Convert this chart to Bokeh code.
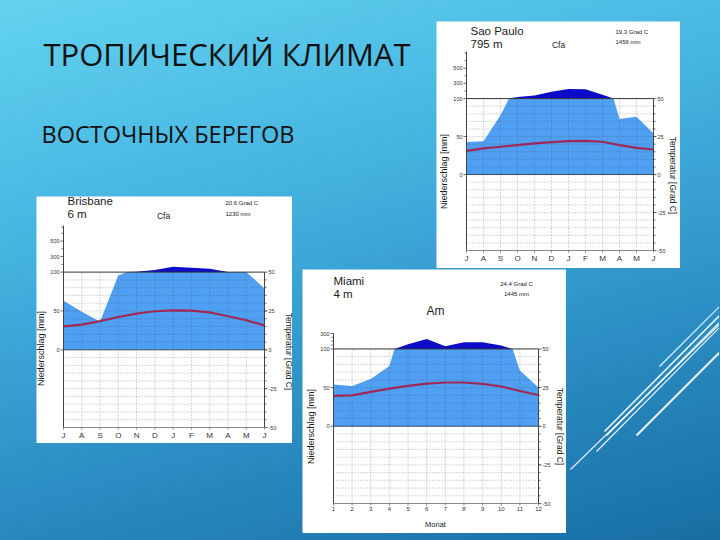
import math
import numpy as np
from bokeh.plotting import figure
from bokeh.models import Range1d, Label, Spacer, GridBox
from bokeh.layouts import column, row
from bokeh.core.properties import value
from bokeh.embed import file_html
from bokeh.resources import INLINE

# ---------------- data ----------------
title_line1 = "ТРОПИЧЕСКИЙ КЛИМАТ"
title_line2 = "ВОСТОЧНЫХ БЕРЕГОВ"

months_south = ["J", "A", "S", "O", "N", "D", "J", "F", "M", "A", "M", "J"]
months_num = ["1", "2", "3", "4", "5", "6", "7", "8", "9", "10", "11", "12"]

sp_precip = [43, 44, 78, 122, 142, 190, 225, 222, 150, 73, 76, 54]
sp_temp = [15.6, 17.2, 18.3, 19.4, 20.5, 21.4, 22.0, 22.2, 21.6, 19.4, 17.6, 16.5]

br_precip = [63, 49, 36, 96, 104, 126, 169, 156, 143, 100, 100, 79]
br_temp = [15.1, 16.2, 18.5, 21.1, 23.3, 24.8, 25.4, 25.2, 24.1, 21.6, 19.0, 15.7]

mi_precip = [54, 52, 61, 78, 160, 230, 135, 187, 187, 144, 72, 50]
mi_temp = [19.6, 20.0, 22.2, 24.3, 26.1, 27.6, 28.3, 28.3, 27.4, 25.7, 22.8, 20.2]

precip_ticks_big = [0, 50, 100, 300, 500]
precip_ticks_small = [0, 50, 100, 300]
temp_ticks = [-50, -25, 0, 25, 50]

# decorative slide lines (page pixels): x0, y0, x1, y1, width
deco_x0 = [660, 605, 607, 597, 571, 637]
deco_y0 = [367, 432, 436, 452, 470, 436]
deco_x1 = [720, 720, 720, 720, 720, 720]
deco_y1 = [307, 316, 323, 328, 325, 353]
deco_w = [1.2, 1.6, 1.4, 1.2, 1.1, 2.2]

FONT = "Liberation Sans"
LIGHT = "#4f9ff2"
DARK = "#0c0cc8"
TLINE = "#a02a55"
AXC = "#444444"


def p_scale(mm):
    return mm / 2.0 if mm <= 100 else 50.0 + (mm - 100) / 20.0


def area_points(xs, mm):
    px, pm = [xs[0]], [mm[0]]
    for i in range(1, len(xs)):
        a, b = mm[i - 1], mm[i]
        if (a - 100) * (b - 100) < 0:
            t = (100.0 - a) / (b - a)
            px.append(xs[i - 1] + t * (xs[i] - xs[i - 1]))
            pm.append(100.0)
        px.append(xs[i])
        pm.append(mm[i])
    return np.array(px, dtype=float), np.array([p_scale(v) for v in pm])


def chart(g, months, precip, temp, pticks, left_minor, texts, month_font):
    PL, PT, W, H, L, R, T, B, YT = g
    FL, FR, FT, FB = PL + L, PL + W - R, PT + T, PT + H - B
    n = len(months) - 1
    s = (FB - FT) / (YT + 50.0)
    kx = n / (FR - FL)      # data units per pixel (x)
    ky = 1.0 / s            # data units per pixel (y)

    def to_data(x, y):
        return (x - FL) * kx, (FB - y) * ky - 50.0

    xa, yb = to_data(PL, PT + H)
    xb, ya = to_data(PL + W, PT)
    p = figure(width=W, height=H, x_range=Range1d(xa, xb), y_range=Range1d(yb, ya),
               output_backend="svg", toolbar_location=None, min_border=0,
               x_axis_type=None, y_axis_type=None,
               background_fill_color="white", border_fill_color="white",
               outline_line_color=None)
    p.xgrid.visible = False
    p.ygrid.visible = False

    xs = list(range(len(months)))
    ax, ay = area_points(xs, precip)
    p.varea(x=ax, y1=np.zeros_like(ay), y2=np.minimum(ay, 50), fill_color=LIGHT)
    p.varea(x=ax, y1=np.full_like(ay, 50.0), y2=np.maximum(ay, 50), fill_color=DARK)

    # dotted grid from -50 to 50
    gx = xs[1:-1]
    p.segment(x0=gx, y0=[-50] * len(gx), x1=gx, y1=[50] * len(gx),
              line_color="#4a4a5a", line_alpha=0.55, line_width=0.8, line_dash="1 2")
    hy = [v for v in range(-45, 50, 5) if v != 0]
    p.segment(x0=[0] * len(hy), y0=hy, x1=[n] * len(hy), y1=hy,
              line_color="#4a4a5a", line_alpha=0.55, line_width=0.8, line_dash="1 2")
    p.segment(x0=[0], y0=[0], x1=[n], y1=[0], line_color="#3a4a66", line_width=1)
    p.segment(x0=[0], y0=[50], x1=[n], y1=[50], line_color="#333333", line_width=1)

    p.line(x=xs, y=temp, line_color=TLINE, line_width=2.2)

    # ---- left axis (precipitation) ----
    tv = [p_scale(v) for v in pticks]
    p.segment(x0=[0], y0=[-50], x1=[0], y1=[YT], line_color=AXC, line_width=1)
    p.segment(x0=[-3 * kx] * len(tv), y0=tv, x1=[0] * len(tv), y1=tv, line_color=AXC, line_width=0.8)
    p.segment(x0=[-2 * kx] * len(left_minor), y0=left_minor, x1=[0] * len(left_minor), y1=left_minor,
              line_color=AXC, line_width=0.8)
    p.text(x=[-4 * kx] * len(tv), y=tv, text=[str(v) for v in pticks], text_align="right",
           text_baseline="middle", text_font=value(FONT), text_font_size="5.5px", text_color="#333333")

    # ---- right axis (temperature) ----
    rmin = list(range(-45, 50, 5))
    p.segment(x0=[n], y0=[-50], x1=[n], y1=[50], line_color=AXC, line_width=1)
    p.segment(x0=[n] * len(temp_ticks), y0=temp_ticks, x1=[n + 3 * kx] * len(temp_ticks), y1=temp_ticks,
              line_color=AXC, line_width=0.8)
    p.segment(x0=[n] * len(rmin), y0=rmin, x1=[n + 2 * kx] * len(rmin), y1=rmin,
              line_color=AXC, line_width=0.8)
    p.text(x=[n + 4 * kx] * len(temp_ticks), y=temp_ticks, text=[str(v) for v in temp_ticks],
           text_align="left", text_baseline="middle", text_font=value(FONT), text_font_size="5.5px",
           text_color="#333333")

    # ---- bottom axis (months) ----
    p.segment(x0=[0], y0=[-50], x1=[n], y1=[-50], line_color="#888888", line_width=1)
    p.segment(x0=xs, y0=[-50] * len(xs), x1=xs, y1=[-50 - 2 * ky] * len(xs), line_color="#666666",
              line_width=0.8)
    p.text(x=xs, y=[-50 - 3.5 * ky] * len(xs), text=months, text_align="center", text_baseline="top",
           text_font=value(FONT), text_font_size=month_font, text_color="#333333")

    # ---- captions ----
    for (txt, x, y, size, align, ang) in texts:
        dx, dy = to_data(x, y)
        p.text(x=[dx], y=[dy], text=[txt], text_font=value(FONT), text_font_size=size,
               text_align=align, text_baseline="middle", angle=ang, text_color="#1a1a1a")
    return p


UP = math.pi / 2
DOWN = -math.pi / 2

sp_geom = (436, 21, 244, 247, 30, 27, 30, 18, 81)
sp_texts = [
    ("Sao Paulo", 470, 30, "11.5px", "left", 0),
    ("795 m", 470, 43.5, "11.5px", "left", 0),
    ("Cfa", 558, 44.5, "8.5px", "center", 0),
    ("19.3 Grad C", 615, 31.5, "6px", "left", 0),
    ("1456 mm", 615, 41.5, "6px", "left", 0),
    ("Niederschlag [mm]", 443.5, 171, "9px", "center", UP),
    ("Temperatur [Grad C]", 672, 175, "8.5px", "center", DOWN),
]
br_geom = (36, 196, 256, 247, 27, 28, 29, 16, 80)
br_texts = [
    ("Brisbane", 67, 200.5, "11.5px", "left", 0),
    ("6 m", 67, 213.5, "11.5px", "left", 0),
    ("Cfa", 163, 215.5, "8.5px", "center", 0),
    ("20.6 Grad C", 225, 202, "6px", "left", 0),
    ("1230 mm", 225, 213, "6px", "left", 0),
    ("Niederschlag [mm]", 40.5, 348, "9px", "center", UP),
    ("Temperatur [Grad C]", 288, 351, "8.5px", "center", DOWN),
]
mi_geom = (303, 270, 264, 264, 31, 28, 64, 30, 60)
mi_texts = [
    ("Miami", 334, 281, "11.5px", "left", 0),
    ("4  m", 334, 294.5, "11.5px", "left", 0),
    ("Am", 436, 311.5, "12px", "center", 0),
    ("24.4 Grad C", 517, 284.5, "6px", "center", 0),
    ("1445 mm", 517, 294.5, "6px", "center", 0),
    ("Niederschlag [mm]", 311.5, 427, "9px", "center", UP),
    ("Temperatur [Grad C]", 560, 427, "8.5px", "center", DOWN),
    ("Monat", 436, 525, "7.5px", "center", 0),
]

sp = chart(sp_geom, months_south, sp_precip, sp_temp, precip_ticks_big, [55, 65, 75, 80], sp_texts, "8px")
br = chart(br_geom, months_south, br_precip, br_temp, precip_ticks_big, [55, 65, 75, 79], br_texts, "8px")
mi = chart(mi_geom, months_num, mi_precip, mi_temp, precip_ticks_small, [52.5, 55, 57.5], mi_texts, "6px")


def blank(w, h, xr, yr):
    f = figure(width=w, height=h, x_range=xr, y_range=yr, output_backend="svg",
               toolbar_location=None, min_border=0, x_axis_type=None, y_axis_type=None,
               background_fill_alpha=0, border_fill_alpha=0, outline_line_color=None)
    f.xgrid.visible = False
    f.ygrid.visible = False
    return f


# title area (page coordinates)
tf = blank(435, 194, Range1d(0, 435), Range1d(194, 0))
tf.add_layout(Label(x=43, y=53, text=title_line1, text_font="Open Sans", text_font_size="31px",
                    text_baseline="middle", text_align="left", text_color="#111111"))
tf.add_layout(Label(x=41, y=133, text=title_line2, text_font="Open Sans", text_font_size="23.5px",
                    text_baseline="middle", text_align="left", text_color="#111111"))

# decorative lines (page coordinates)
df = blank(153, 270, Range1d(567, 720), Range1d(540, 270))
df.segment(x0=deco_x0, y0=deco_y0, x1=deco_x1, y1=deco_y1, line_width=deco_w,
           line_color="white", line_alpha=0.9)

sp_cell = column(Spacer(width=285, height=21), row(Spacer(width=1, height=247), sp))
br_cell = column(Spacer(width=302, height=2), row(Spacer(width=36, height=247), br))
mi_cell = column(Spacer(width=418, height=0), row(Spacer(width=0, height=264), mi, df))

grid = GridBox(children=[(tf, 0, 0, 1, 2), (sp_cell, 0, 2, 2, 1), (br_cell, 1, 0, 2, 1),
                         (mi_cell, 2, 1, 1, 2)],
               rows=["194px", "75px", "271px"], cols=["302px", "133px", "285px"],
               spacing=0, width=720, height=540,
               styles={"background": "linear-gradient(165deg, #63d3ef 0%, #45b3e0 35%, #2a8cc2 70%, #176ea3 100%)"})

open("out.html", "w").write(file_html(grid, INLINE))
